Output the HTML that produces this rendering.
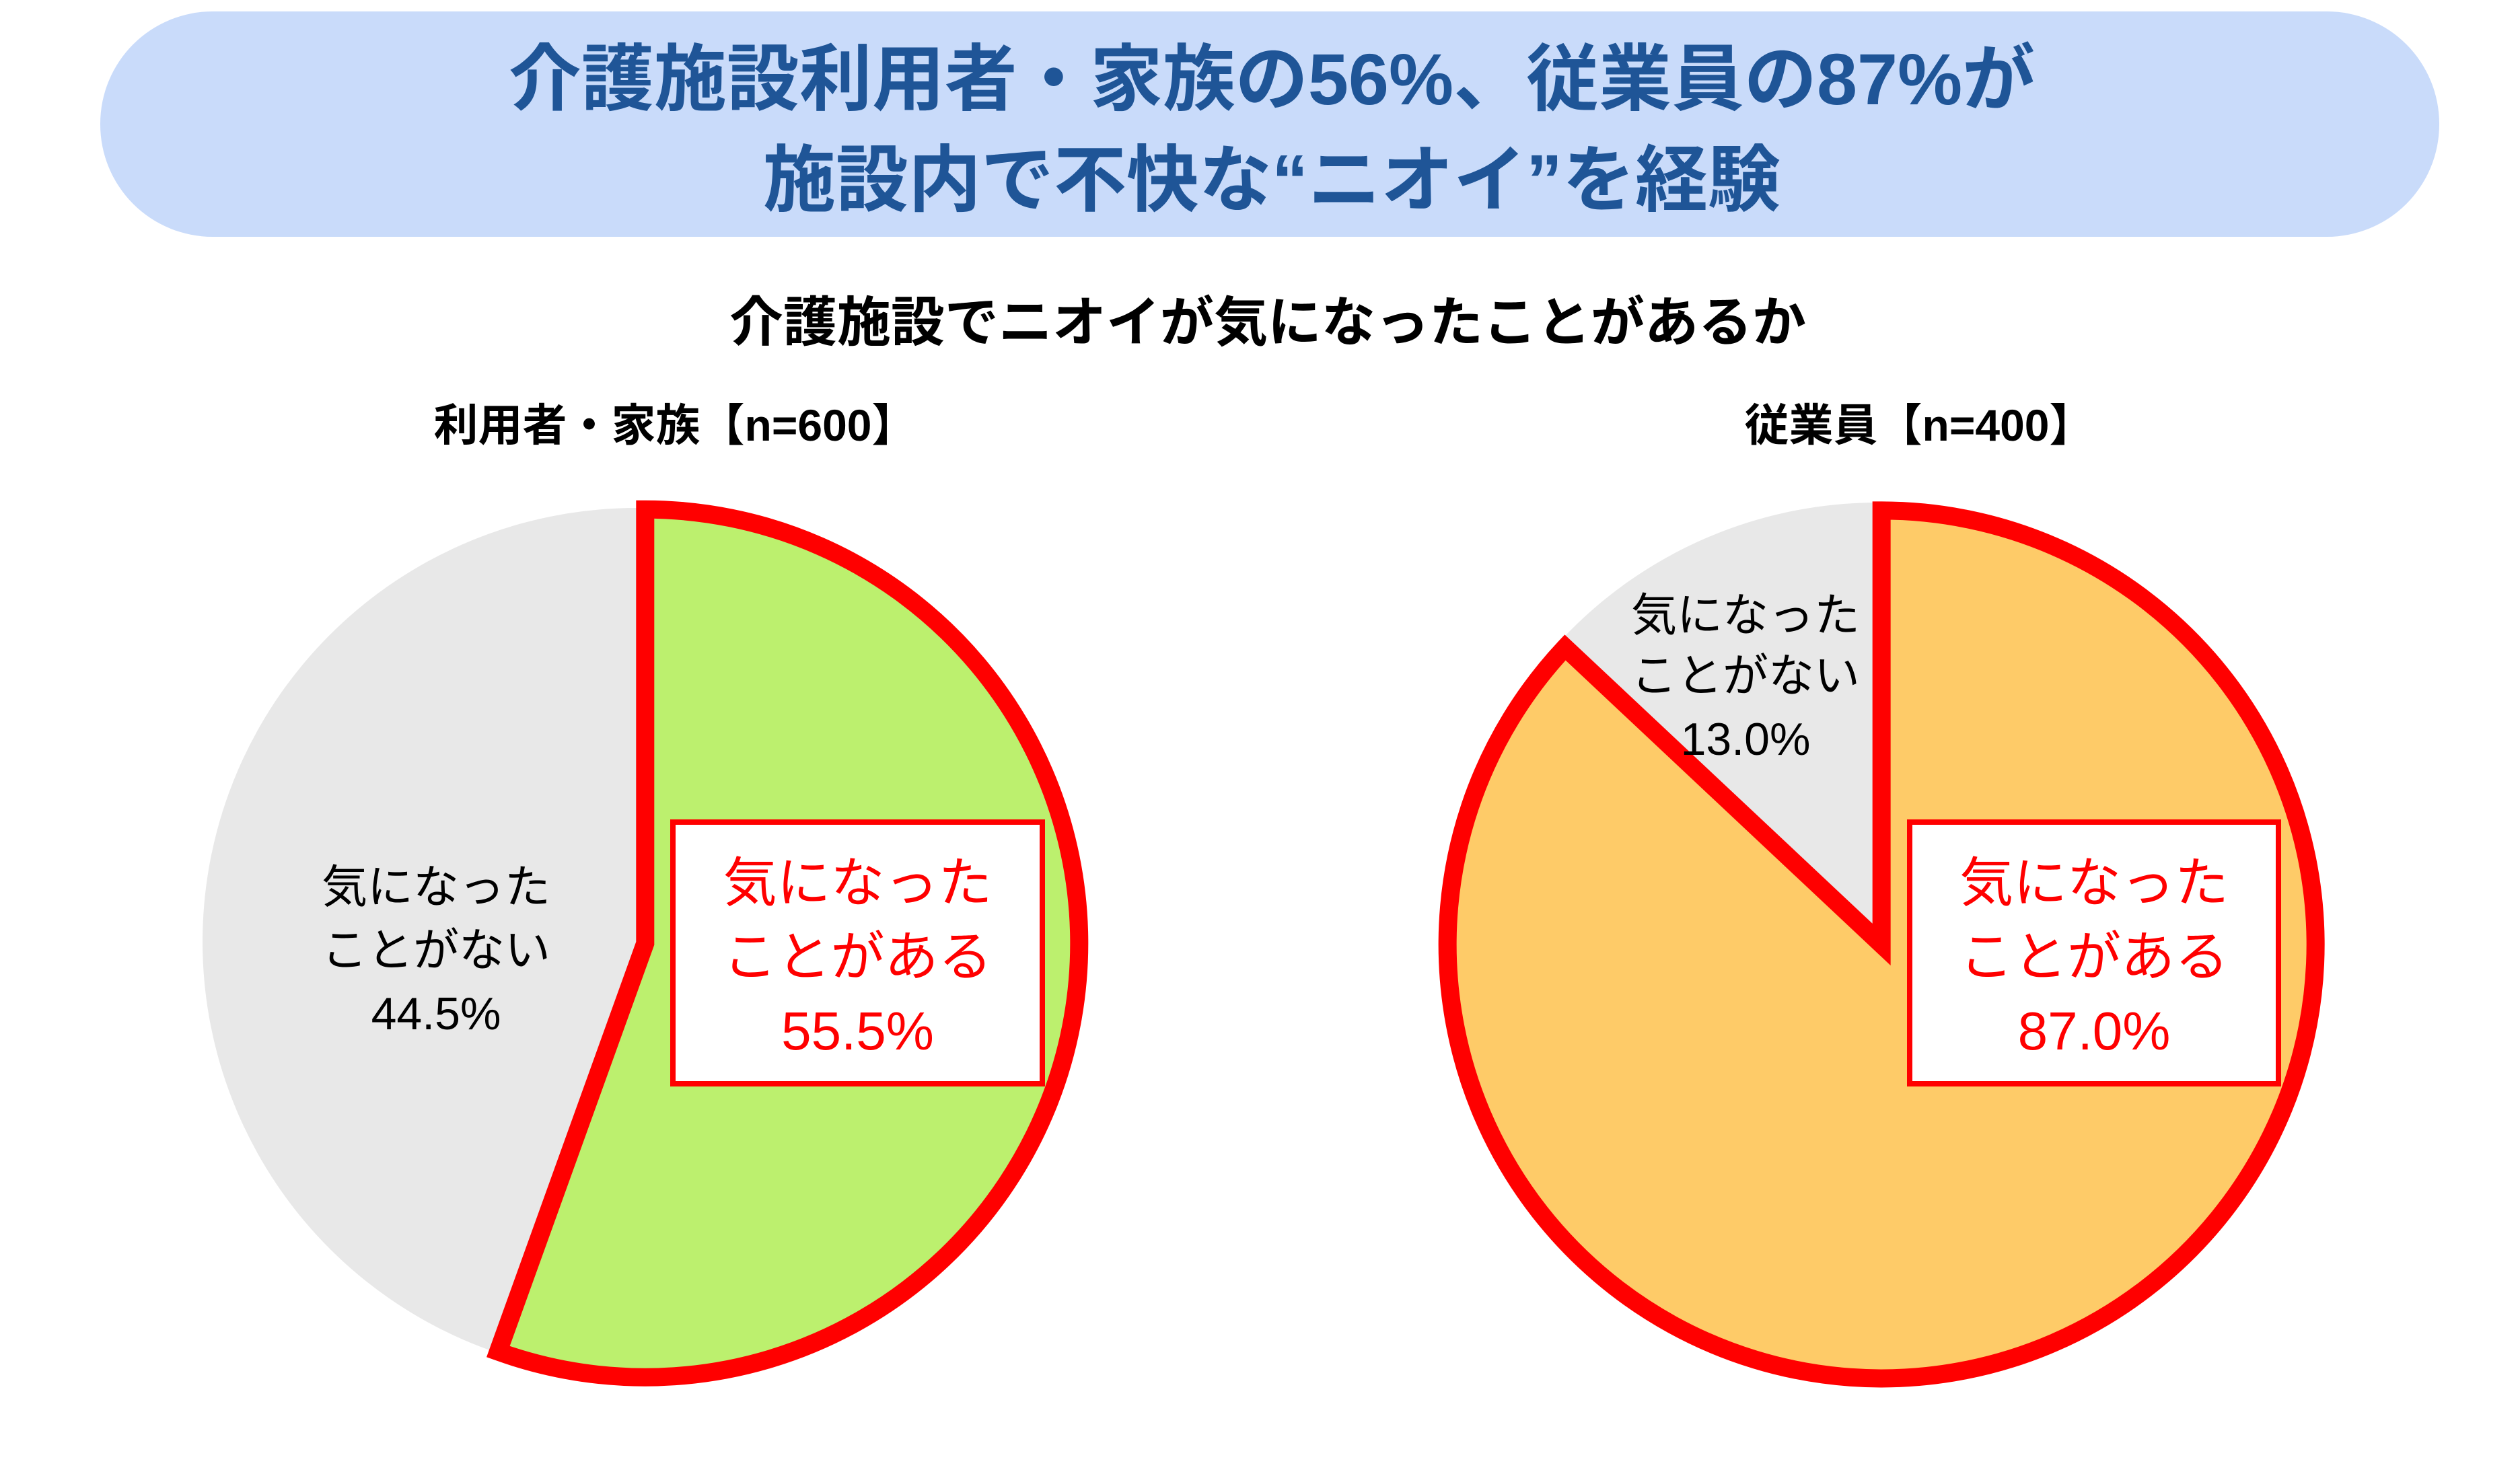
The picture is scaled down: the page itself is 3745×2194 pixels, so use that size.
<!DOCTYPE html>
<html><head><meta charset="utf-8"><style>
html,body{margin:0;padding:0;background:#fff;}
svg{display:block;font-family:"Liberation Sans","Noto Sans CJK JP",sans-serif;}
</style></head><body>
<svg id="chart" width="3745" height="2194" viewBox="0 0 3745 2194">
<rect x="149" y="17" width="3476" height="335" rx="167" fill="#c9dbfa"/>
<text x="1890" y="155" font-size="108" font-weight="bold" fill="#1f5597" text-anchor="middle">介護施設利用者・家族の56%、従業員の87%が</text>
<text x="1890" y="305" font-size="108" font-weight="bold" fill="#1f5597" text-anchor="middle">施設内で不快な“ニオイ”を経験</text>
<text x="1884" y="507" font-size="80" font-weight="bold" fill="#000" text-anchor="middle">介護施設でニオイが気になったことがあるか</text>
<g id="pies"></g>
</svg>
<script>
const groups = ["利用者・家族【n=600】", "従業員【n=400】"];
const yesValues = [55.5, 87.0];
const noValues = [44.5, 13.0];
const yesLabels = ["55.5%", "87.0%"];
const noLabels = ["44.5%", "13.0%"];

const NS = "http://www.w3.org/2000/svg";
const root = document.getElementById("pies");
const layout = [
  {cx: 946, cy: 1400, titleX: 1003, yesFill: "#bcf06e", box: [1000, 1222, 549, 389], noX: 648, noY: [1318, 1412, 1506]},
  {cx: 2791, cy: 1392, titleX: 2852, yesFill: "#fecb68", box: [2838, 1222, 548, 389], noX: 2594, noY: [914, 1004, 1098]}
];
const R = 645, OFFSET = 13;
function pt(cx, cy, r, frac) {
  const a = frac * 2 * Math.PI;
  return [cx + r * Math.sin(a), cy - r * Math.cos(a)];
}
function mk(tag, attrs) {
  const e = document.createElementNS(NS, tag);
  for (const k in attrs) e.setAttribute(k, attrs[k]);
  return e;
}
groups.forEach((g, i) => {
  const L = layout[i];
  const total = yesValues[i] + noValues[i];
  const yf = yesValues[i] / total;
  const t = mk("text", {x: L.titleX, y: 655, "font-size": 66, "font-weight": "bold", "text-anchor": "middle", fill: "#000"});
  t.textContent = g;
  
  
  root.appendChild(t);
  // no slice (grey)
  const n0 = pt(L.cx, L.cy, R, yf), n1 = pt(L.cx, L.cy, R, 1);
  const noPath = mk("path", {d: `M${L.cx},${L.cy} L${n0[0]},${n0[1]} A${R},${R} 0 ${(1 - yf) > 0.5 ? 1 : 0} 1 ${n1[0]},${n1[1]} Z`, fill: "#e8e8e8"});
  
  
  root.appendChild(noPath);
  // yes slice (exploded)
  const mid = pt(0, 0, OFFSET, yf / 2);
  const cx = L.cx + mid[0], cy = L.cy + mid[1];
  const y0 = pt(cx, cy, R, 0), y1 = pt(cx, cy, R, yf);
  const yesPath = mk("path", {d: `M${cx},${cy} L${y0[0]},${y0[1]} A${R},${R} 0 ${yf > 0.5 ? 1 : 0} 1 ${y1[0]},${y1[1]} Z`, fill: L.yesFill, stroke: "#ff0000", "stroke-width": 27, "stroke-linejoin": "miter"});
  
  
  root.appendChild(yesPath);
  // no label
  ["気になった", "ことがない", noLabels[i]].forEach((s, j) => {
    const tx = mk("text", {x: L.noX, y: L.noY[j] + 24, "font-size": 68, "text-anchor": "middle", fill: "#000"});
    tx.textContent = s;
    
    
    root.appendChild(tx);
  });
  // yes box label
  const b = L.box;
  const br = mk("rect", {x: b[0], y: b[1], width: b[2], height: b[3], fill: "#fff", stroke: "#ff0000", "stroke-width": 8});
  
  
  root.appendChild(br);
  ["気になった", "ことがある", yesLabels[i]].forEach((s, j) => {
    const tx = mk("text", {x: b[0] + b[2] / 2, y: b[1] + 118 + j * 110, "font-size": 80, "text-anchor": "middle", fill: "#ff0000"});
    tx.textContent = s;
    
    
    root.appendChild(tx);
  });
});
</script>
</body></html>
